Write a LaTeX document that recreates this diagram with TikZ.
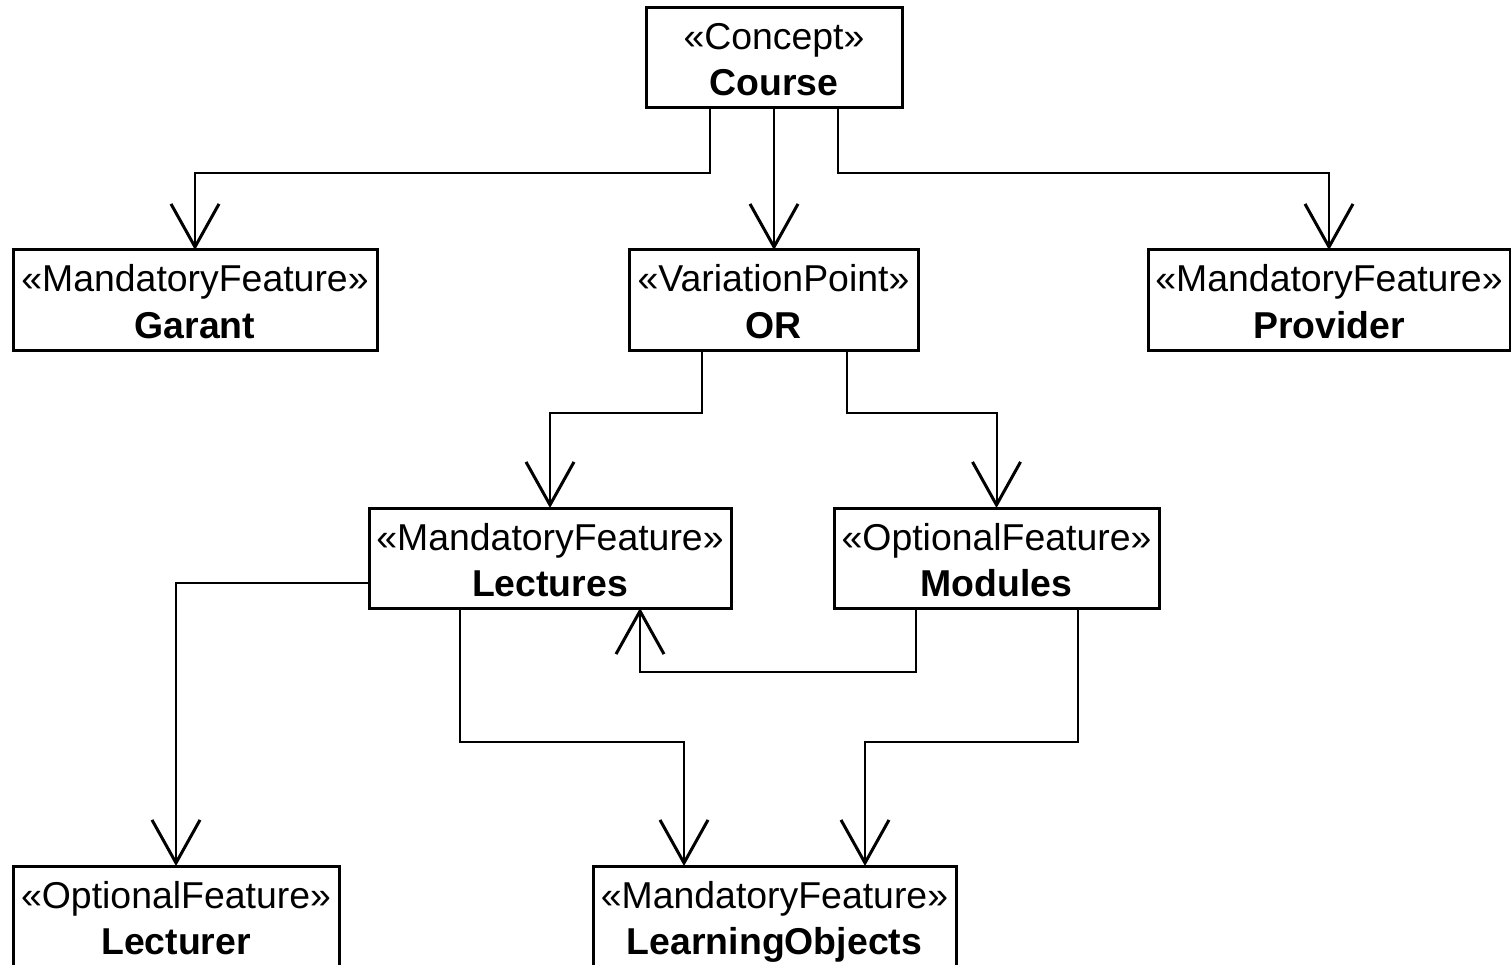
\documentclass[tikz,border=0pt]{standalone}
\usepackage{fontspec}
\setmainfont{Liberation Sans}
\usetikzlibrary{arrows.meta}
\tikzset{
  box/.style={draw, line width=3pt, inner sep=0pt, outer sep=0pt, anchor=north west},
  stereo/.style={anchor=base, inner sep=0pt, font=\fontsize{37.4}{42}\selectfont},
  title/.style={anchor=base, inner sep=0pt, font=\fontsize{37.4}{42}\selectfont\bfseries},
  conn/.style={line width=2pt, -{Straight Barb[length=43pt,width=48pt,line width=3pt]}},
}
% \umlbox{name}{x}{y}{width}{height}{stereotype}{title}
\newcommand\umlbox[7]{%
  \node[box, minimum width=#4pt, minimum height=#5pt] (#1) at (#2,#3) {};
  \node[stereo] (#1-st) at ([yshift=-42pt]#1.north) {«#6»};
  \node[title] (#1-ti) at ([yshift=-88pt]#1.north) {#7};
}
\begin{document}
\begin{tikzpicture}[x=1pt, y=-1pt]
  \useasboundingbox (0,0) rectangle (1511,965);
  \clip (0,0) rectangle (1511,965);
  \fill[white] (0,0) rectangle (1511,965);

  \umlbox{course}{646}{8}{256}{100}{Concept}{Course}
  \umlbox{garant}{13}{250}{364}{100}{MandatoryFeature}{Garant}
  \umlbox{or}{629}{250}{289}{100}{VariationPoint}{OR}
  \umlbox{provider}{1148}{250}{362}{100}{MandatoryFeature}{Provider}
  \umlbox{lectures}{369}{508}{362}{100}{MandatoryFeature}{Lectures}
  \umlbox{modules}{834}{508}{325}{100}{OptionalFeature}{Modules}
  \umlbox{lecturer}{13}{866}{326}{100}{OptionalFeature}{Lecturer}
  \umlbox{learning}{593}{866}{363}{100}{MandatoryFeature}{LearningObjects}

  % Course children
  \draw[conn] ([xshift=-64pt]course.south) -- ++(0,65) -| (garant.north);
  \draw[conn] (course.south) -- (course.south |- or.north);
  \draw[conn] ([xshift=64pt]course.south) -- ++(0,65) -| (provider.north);

  % OR alternatives
  \draw[conn] ([xshift=-71.5pt]or.south) -- ++(0,63) -| (lectures.north);
  \draw[conn] ([xshift=73.5pt]or.south) -- ++(0,63) -| (modules.north);

  % Lectures and Modules dependencies
  \draw[conn] ([yshift=-75pt]lectures.north west) -| (lecturer.north);
  \draw[conn] ([xshift=-90pt]lectures.south) -- ++(0,134) -| ([xshift=-90.5pt]learning.north);
  \draw[conn] ([xshift=81.5pt]modules.south) -- ++(0,134) -| ([xshift=90.5pt]learning.north);
  \draw[conn] ([xshift=-80.5pt]modules.south) -- ++(0,64) -| ([xshift=90pt]lectures.south);
\end{tikzpicture}
\end{document}
